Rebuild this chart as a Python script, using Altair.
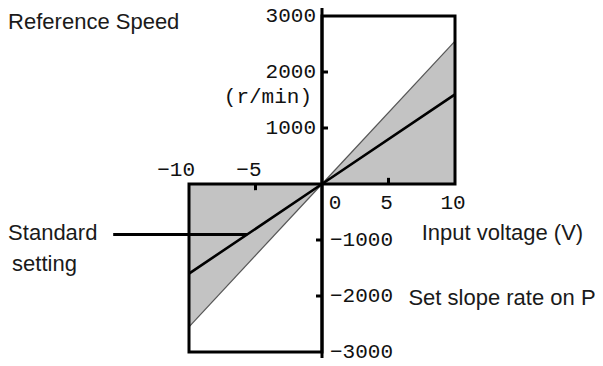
import altair as alt
import pandas as pd

# ---- data ----
voltage = [-10, 0, 10]
slope_max_speed = [-2550, 0, 2550]      # upper edge of the shaded band
standard_speed = [-1600, 0, 1600]       # standard setting line

box_x = [0, -10]
box_x2 = [10, 0]
box_y = [0, -3000]
box_y2 = [3000, 0]

y_labels_left = [3000, 2000, 1000]
y_labels_right = [-1000, -2000, -3000]
y_ticks_right = [2000, 1000]
y_ticks_left = [-1000, -2000]
x_labels_above = [-10, -5]
x_labels_below = [5, 10]
x_tick_down = [-5]
x_tick_up = [5]

ann_text = ["Reference Speed", "Standard", "setting", "Input voltage (V)", "Set slope rate on P"]
ann_x = [-23.6, -23.6, -23.3, 7.5, 6.5]
ann_y = [2890, -880, -1420, -880, -2040]

axis_top, axis_bottom = 3200, -3260
leader_start_x, leader_y = -15.7, -900

# ---- styles ----
TICK_X = 0.45
TICK_Y = 110
NUM_FONT = "Liberation Mono"
TXT_FONT = "Liberation Sans"

xs = alt.Scale(domain=[-10, 10], nice=False, zero=False)
ys = alt.Scale(domain=[-3000, 3000], nice=False, zero=False)
X = lambda f: alt.X(f, type="quantitative", scale=xs, axis=None)
Y = lambda f: alt.Y(f, type="quantitative", scale=ys, axis=None)


def lab(v):
    return str(v).replace("-", "\u2212")


band = pd.DataFrame({"x": voltage, "y": slope_max_speed, "std": standard_speed})

area = alt.Chart(band).mark_area(color="#c3c3c3", opacity=1).encode(
    x=X("x"), y=Y("y"), y2=alt.datum(0)
)
edge = alt.Chart(band).mark_line(color="#555555", strokeWidth=1.2).encode(x=X("x"), y=Y("y"))
std_line = alt.Chart(band).mark_line(color="black", strokeWidth=2.6).encode(x=X("x"), y=Y("std"))

boxes = alt.Chart(pd.DataFrame({"x": box_x, "x2": box_x2, "y": box_y, "y2": box_y2})).mark_rect(
    fill="white", fillOpacity=0, stroke="black", strokeWidth=3
).encode(x=X("x"), x2="x2", y=Y("y"), y2="y2")

vaxis = alt.Chart(pd.DataFrame({"x": [0], "y": [axis_top], "y2": [axis_bottom]})).mark_rule(
    color="black", strokeWidth=3
).encode(x=X("x"), y=Y("y"), y2="y2")

# ticks
yt_r = alt.Chart(pd.DataFrame({"y": y_ticks_right})).transform_calculate(
    x0="0", x1=str(TICK_X)
).mark_rule(color="black", strokeWidth=3).encode(x=X("x0"), x2="x1:Q", y=Y("y"))
yt_l = alt.Chart(pd.DataFrame({"y": y_ticks_left})).transform_calculate(
    x0=str(-TICK_X), x1="0"
).mark_rule(color="black", strokeWidth=3).encode(x=X("x0"), x2="x1:Q", y=Y("y"))
xt_d = alt.Chart(pd.DataFrame({"x": x_tick_down})).transform_calculate(
    y0="0", y1=str(-TICK_Y)
).mark_rule(color="black", strokeWidth=3).encode(x=X("x"), y=Y("y0"), y2="y1:Q")
xt_u = alt.Chart(pd.DataFrame({"x": x_tick_up})).transform_calculate(
    y0="0", y1=str(TICK_Y)
).mark_rule(color="black", strokeWidth=3).encode(x=X("x"), y=Y("y0"), y2="y1:Q")

# tick labels
num = dict(font=NUM_FONT, fontSize=21, color="#111111", baseline="middle")
ylab_l = alt.Chart(pd.DataFrame({"y": y_labels_left, "t": [lab(v) for v in y_labels_left], "x": 0})).mark_text(
    align="right", dx=-6, **num
).encode(x=X("x"), y=Y("y"), text="t:N")
unit = alt.Chart(pd.DataFrame({"y": [1550], "t": ["(r/min)"], "x": 0})).mark_text(
    align="right", dx=-10, **num
).encode(x=X("x"), y=Y("y"), text="t:N")
ylab_r = alt.Chart(pd.DataFrame({"y": y_labels_right, "t": [lab(v) for v in y_labels_right], "x": 0})).mark_text(
    align="left", dx=8, **num
).encode(x=X("x"), y=Y("y"), text="t:N")
xlab_a = alt.Chart(pd.DataFrame({"x": x_labels_above, "t": [lab(v) for v in x_labels_above], "y": 0})).mark_text(
    align="right", dx=6, dy=-14, **num
).encode(x=X("x"), y=Y("y"), text="t:N")
xlab_b = alt.Chart(pd.DataFrame({"x": x_labels_below, "t": [lab(v) for v in x_labels_below], "y": 0})).mark_text(
    align="center", dx=-2, dy=19, **num
).encode(x=X("x"), y=Y("y"), text="t:N")
xlab_0 = alt.Chart(pd.DataFrame({"x": [0], "t": ["0"], "y": 0})).mark_text(
    align="center", dx=13, dy=19, **num
).encode(x=X("x"), y=Y("y"), text="t:N")

# annotations
ann = alt.Chart(pd.DataFrame({"x": ann_x, "y": ann_y, "t": ann_text})).mark_text(
    align="left", baseline="middle", font=TXT_FONT, fontSize=22, color="#1a1a1a"
).encode(x=X("x"), y=Y("y"), text="t:N")

leader_end_x = leader_y / (standard_speed[0] / voltage[0])
leader = alt.Chart(pd.DataFrame({"x": [leader_start_x], "x2": [leader_end_x], "y": [leader_y]})).mark_rule(
    color="black", strokeWidth=3
).encode(x=X("x"), x2="x2", y=Y("y"))

chart = alt.layer(
    area, edge, std_line, boxes, vaxis, yt_r, yt_l, xt_d, xt_u,
    ylab_l, unit, ylab_r, xlab_a, xlab_b, xlab_0, ann, leader
).properties(
    width=266, height=336,
    padding={"left": 181, "top": 8, "right": 140, "bottom": 6},
    autosize=alt.AutoSizeParams(type="none"),
    background="white",
).configure_view(stroke=None)

chart.save("out.html", embed_options={"renderer": "svg", "actions": False})
